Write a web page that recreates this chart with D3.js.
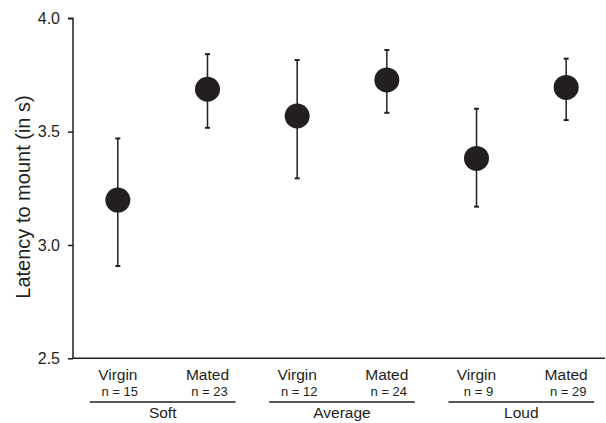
<!DOCTYPE html>
<html>
<head>
<meta charset="utf-8">
<script src="https://cdn.jsdelivr.net/npm/d3@7"></script>
<style>
  body { margin: 0; background: #fff; }
  text { font-family: "Liberation Sans", Arial, sans-serif; fill: #231f20; }
</style>
</head>
<body>
<div id="chart-container"></div>
<script>
// values
var groups = ["Soft", "Average", "Loud"];
var statusLabels = ["Virgin", "Mated", "Virgin", "Mated", "Virgin", "Mated"];
var nLabels = ["n = 15", "n = 23", "n = 12", "n = 24", "n = 9", "n = 29"];
var means = [3.198, 3.687, 3.569, 3.728, 3.382, 3.695];
var upper = [3.470, 3.842, 3.816, 3.860, 3.601, 3.822];
var lower = [2.907, 3.517, 3.294, 3.583, 3.169, 3.551];
var yTicks = [2.5, 3.0, 3.5, 4.0];

var width = 606, height = 423;
var ink = "#231f20";

var svg = d3.select("#chart-container")
    .append("svg")
    .attr("width", width)
    .attr("height", height);

var idx = d3.range(means.length);

var x = d3.scalePoint()
    .domain(idx)
    .range([73, 611])
    .padding(0.5);

var y = d3.scaleLinear()
    .domain([2.5, 4.0])
    .range([358.3, 18.3]);

// y axis
var yAxis = d3.axisLeft(y)
    .tickValues(yTicks)
    .tickFormat(d3.format(".1f"))
    .tickSize(5)
    .tickPadding(8);

var gy = svg.append("g")
    .attr("class", "y-axis")
    .attr("transform", "translate(73,0)")
    .call(yAxis);
gy.select(".domain").attr("stroke", ink).attr("stroke-width", 1.5)
    .attr("d", "M-5," + y(4.0) + "H0V" + y(2.5));
gy.selectAll(".tick line").attr("stroke", ink).attr("stroke-width", 1.5);
gy.selectAll(".tick text")
    .style("font-size", "16px")
    .attr("fill", ink);

// x axis line
svg.append("line")
    .attr("x1", 73).attr("x2", 605)
    .attr("y1", y(2.5)).attr("y2", y(2.5))
    .attr("stroke", ink)
    .attr("stroke-width", 1.5);

// y label
svg.append("text")
    .attr("transform", "translate(30,197) rotate(-90)")
    .attr("text-anchor", "middle")
    .style("font-size", "20px")
    .text("Latency to mount (in s)");

// error bars
var bars = svg.append("g").attr("class", "errors");
bars.selectAll("line.err")
    .data(idx)
    .enter().append("line")
    .attr("class", "err")
    .attr("x1", d => x(d)).attr("x2", d => x(d))
    .attr("y1", d => y(upper[d])).attr("y2", d => y(lower[d]))
    .attr("stroke", ink).attr("stroke-width", 1.5);

[upper, lower].forEach(function(arr) {
    bars.selectAll(null)
        .data(idx)
        .enter().append("line")
        .attr("x1", d => x(d) - 2.5).attr("x2", d => x(d) + 2.5)
        .attr("y1", d => y(arr[d])).attr("y2", d => y(arr[d]))
        .attr("stroke", ink).attr("stroke-width", 2);
});

// points
svg.append("g").selectAll("circle")
    .data(idx)
    .enter().append("circle")
    .attr("cx", d => x(d))
    .attr("cy", d => y(means[d]))
    .attr("r", 12.5)
    .attr("fill", ink);

// category labels
svg.append("g").selectAll("text")
    .data(idx)
    .enter().append("text")
    .attr("x", d => x(d))
    .attr("y", 380)
    .attr("text-anchor", "middle")
    .style("font-size", "15.5px")
    .text(d => statusLabels[d]);

svg.append("g").selectAll("text")
    .data(idx)
    .enter().append("text")
    .attr("x", d => x(d) + 2)
    .attr("y", 396)
    .attr("text-anchor", "middle")
    .style("font-size", "13px")
    .text(d => nLabels[d]);

// group lines and names
var grp = svg.append("g").selectAll("g")
    .data(groups)
    .enter().append("g");

grp.append("line")
    .attr("x1", (d, i) => x(i * 2) - 28)
    .attr("x2", (d, i) => x(i * 2 + 1) + 28)
    .attr("y1", 402).attr("y2", 402)
    .attr("stroke", ink).attr("stroke-width", 1.3);

grp.append("text")
    .attr("x", (d, i) => (x(i * 2) + x(i * 2 + 1)) / 2)
    .attr("y", 418)
    .attr("text-anchor", "middle")
    .style("font-size", "15.5px")
    .text(d => d);
</script>
</body>
</html>
